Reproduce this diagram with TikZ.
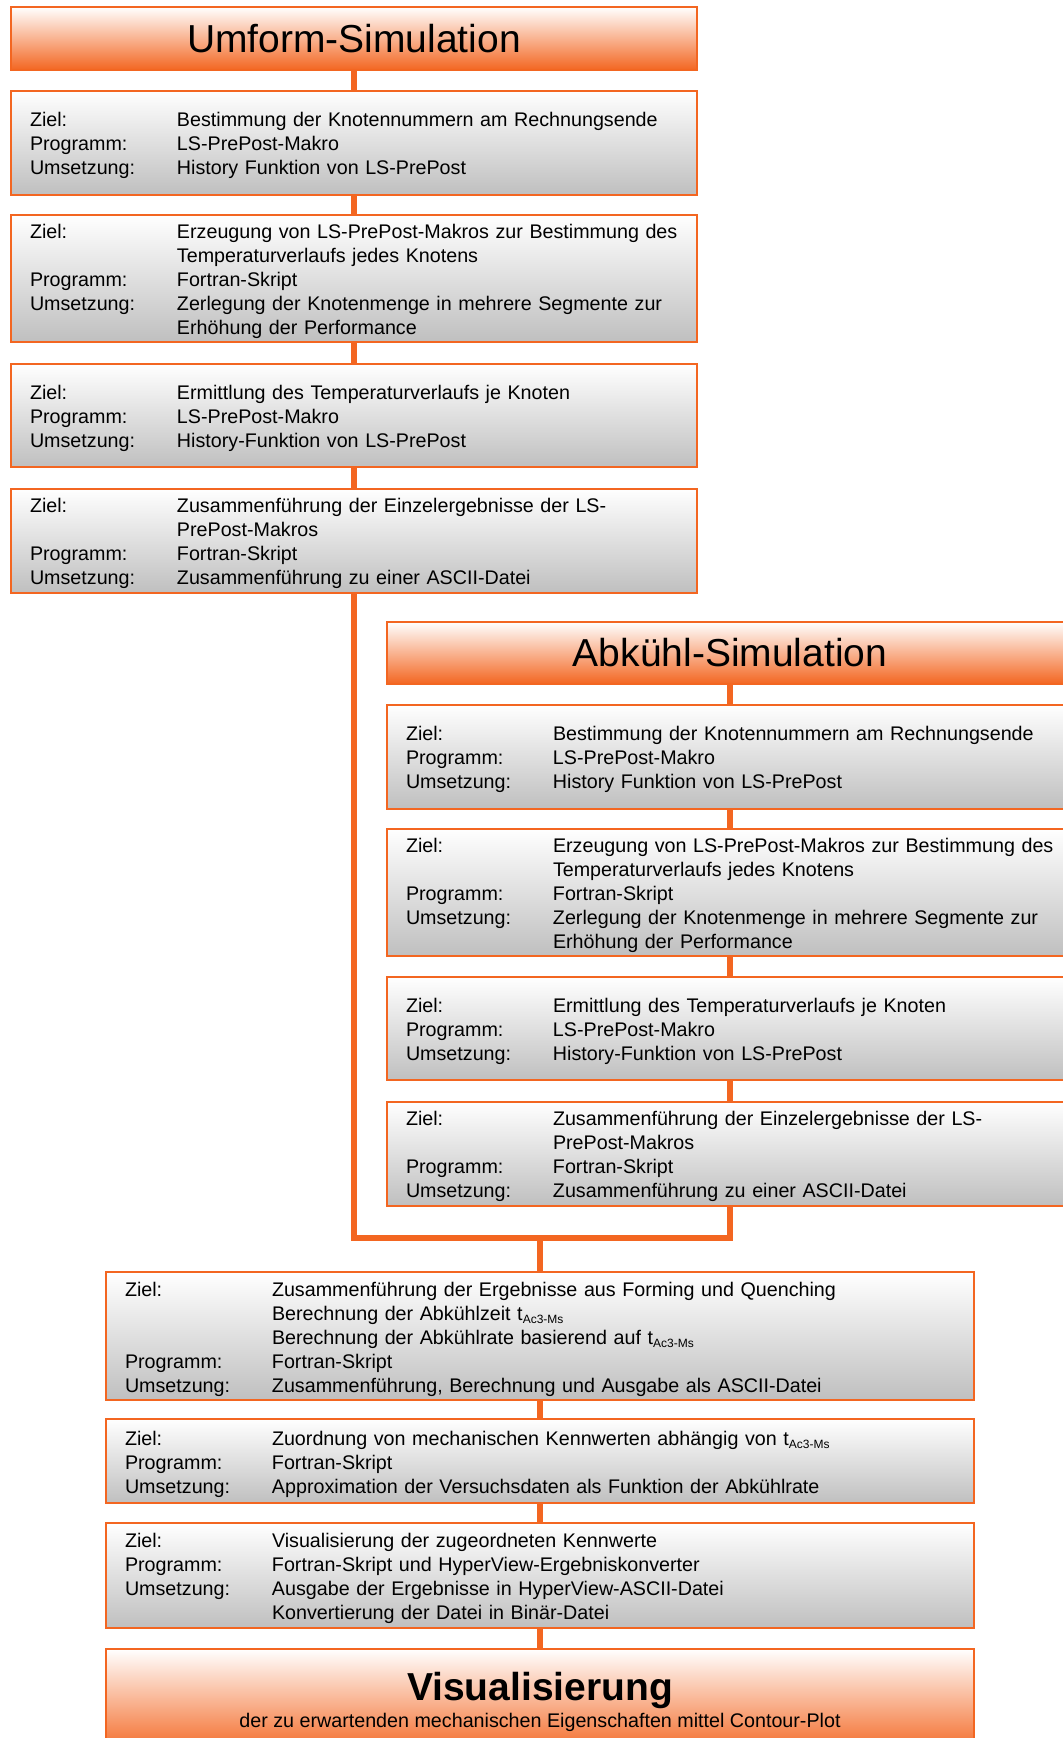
\documentclass[tikz,border=0pt]{standalone}
\usepackage{fontspec}
\setmainfont{Liberation Sans}
\usetikzlibrary{positioning}
\definecolor{flowOrange}{RGB}{243,102,33}

\newcommand{\tAcMs}{t\raisebox{-0.3ex}{\fontsize{12}{12}\selectfont Ac3-Ms}}
\newcommand{\infotab}[1]{\raisebox{-3.5pt}[\height][\depth]{\begin{tabular}{@{}p{147pt}@{}l@{}}#1\end{tabular}}}

\newcommand{\knotenNr}{\infotab{Ziel: & Bestimmung der Knotennummern am Rechnungsende\\
  Programm: & LS-PrePost-Makro\\
  Umsetzung: & History Funktion von LS-PrePost}}
\newcommand{\makroGen}{\infotab{Ziel: & Erzeugung von LS-PrePost-Makros zur Bestimmung des\\
  & Temperaturverlaufs jedes Knotens\\
  Programm: & Fortran-Skript\\
  Umsetzung: & Zerlegung der Knotenmenge in mehrere Segmente zur\\
  & Erhöhung der Performance}}
\newcommand{\tempVerlauf}{\infotab{Ziel: & Ermittlung des Temperaturverlaufs je Knoten\\
  Programm: & LS-PrePost-Makro\\
  Umsetzung: & History-Funktion von LS-PrePost}}
\newcommand{\einzelErg}{\infotab{Ziel: & Zusammenführung der Einzelergebnisse der LS-\\
  & PrePost-Makros\\
  Programm: & Fortran-Skript\\
  Umsetzung: & Zusammenführung zu einer ASCII-Datei}}

\begin{document}
\begin{tikzpicture}[x=1pt,y=1pt,node distance=18.5pt,
  header/.style={draw=flowOrange,line width=2pt,top color=white,bottom color=flowOrange,
    minimum width=686pt,minimum height=63pt,font=\fontsize{39}{42}\selectfont},
  info/.style={draw=flowOrange,line width=2pt,top color=white,bottom color=black!25,
    text width=648pt,inner xsep=19pt,align=left,font=\fontsize{19.7}{24}\selectfont},
  infowide/.style={info,text width=830pt},
  link/.style={draw=flowOrange,line width=5.5pt}]
  \useasboundingbox (0,0) rectangle (1063,-1738);

  % Umform-Simulation
  \node[header] (h_1) at (354,-38.5) {Umform-Simulation};
  \node[info,minimum height=104pt] (a_1) [below=of h_1] {\knotenNr};
  \node[info,minimum height=125pt] (a_2) [below=of a_1] {\makroGen};
  \node[info,minimum height=103pt] (a_3) [below=20.5pt of a_2] {\tempVerlauf};
  \node[info,minimum height=104pt] (a_4) [below=19.5pt of a_3] {\einzelErg};

  % Abkuehl-Simulation
  \node[header,minimum height=62pt] (h_2) at (730,-653) {Abkühl-Simulation};
  \node[info,minimum height=104pt] (b_1) [below=of h_2] {\knotenNr};
  \node[info,minimum height=126pt] (b_2) [below=of b_1] {\makroGen};
  \node[info,minimum height=103pt] (b_3) [below=19.5pt of b_2] {\tempVerlauf};
  \node[info,minimum height=104pt] (b_4) [below=19.5pt of b_3] {\einzelErg};

  % Auswertung
  \coordinate (merge) at (540,-1238);
  \node[infowide,minimum height=128pt] (c_1) [below=33pt of merge] {\infotab{%
    Ziel: & Zusammenführung der Ergebnisse aus Forming und Quenching\\
    & Berechnung der Abkühlzeit \tAcMs\\
    & Berechnung der Abkühlrate basierend auf \tAcMs\\
    Programm: & Fortran-Skript\\
    Umsetzung: & Zusammenführung, Berechnung und Ausgabe als ASCII-Datei}};
  \node[infowide,minimum height=84pt] (c_2) [below=17pt of c_1] {\infotab{%
    Ziel: & Zuordnung von mechanischen Kennwerten abhängig von \tAcMs\\
    Programm: & Fortran-Skript\\
    Umsetzung: & Approximation der Versuchsdaten als Funktion der Abkühlrate}};
  \node[infowide,minimum height=105pt] (c_3) [below=18pt of c_2] {\infotab{%
    Ziel: & Visualisierung der zugeordneten Kennwerte\\
    Programm: & Fortran-Skript und HyperView-Ergebniskonverter\\
    Umsetzung: & Ausgabe der Ergebnisse in HyperView-ASCII-Datei\\
    & Konvertierung der Datei in Binär-Datei}};
  \node[header,minimum width=868pt,minimum height=106pt,align=center] (h_3) [below=19pt of c_3]
    {\bfseries Visualisierung\\[-15pt]
     \mdseries\fontsize{19.7}{24}\selectfont der zu erwartenden mechanischen Eigenschaften mittel Contour-Plot};

  \draw[link] (h_1) -- (a_1);
  \draw[link] (a_1) -- (a_2);
  \draw[link] (a_2) -- (a_3);
  \draw[link] (a_3) -- (a_4);
  \draw[link] (h_2) -- (b_1);
  \draw[link] (b_1) -- (b_2);
  \draw[link] (b_2) -- (b_3);
  \draw[link] (b_3) -- (b_4);
  \draw[link] (a_4.south) |- (merge) -| (b_4.south);
  \draw[link] (merge) -- (c_1.north);
  \draw[link] (c_1) -- (c_2);
  \draw[link] (c_2) -- (c_3);
  \draw[link] (c_3) -- (h_3);
\end{tikzpicture}
\end{document}
